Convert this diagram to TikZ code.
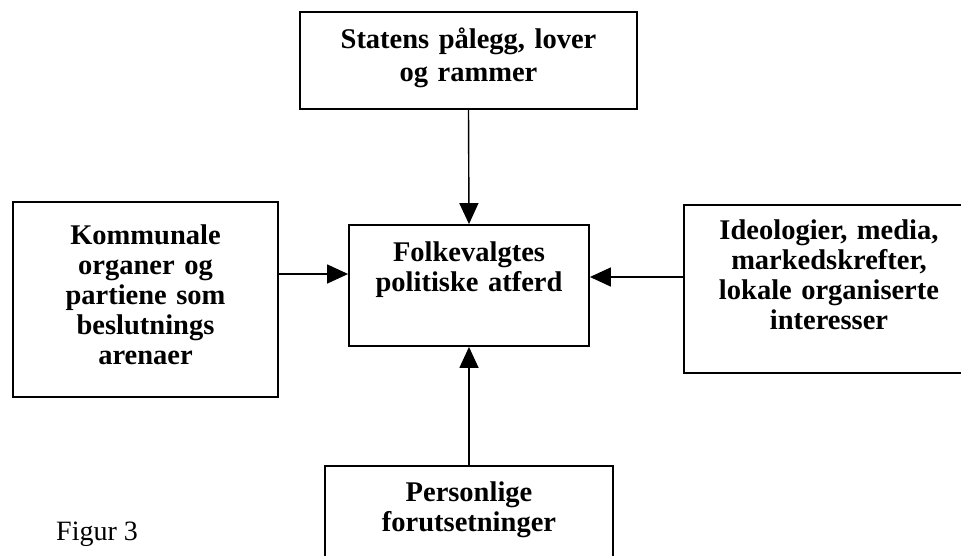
\documentclass[tikz,border=0pt]{standalone}
\usepackage{fontspec}
\setmainfont{Liberation Serif}
\usetikzlibrary{arrows.meta}

\begin{document}
\begin{tikzpicture}[x=1pt, y=-1pt,
    box/.style={draw, line width=1.8pt, inner sep=0pt},
    lbl/.style={anchor=base, inner sep=0pt, align=center, text width=#1,
        font=\fontsize{28.5}{30}\selectfont\bfseries},
    arr/.style={-{Triangle[length=21pt, width=19pt]}, line width=1.4pt}]
    \useasboundingbox (0,0) rectangle (961,555);
    % boxes
    \node[box, minimum width=337pt, minimum height=97pt] (stat) at (468.5,60.5) {};
    \node[box, minimum width=240pt, minimum height=121pt] (folk) at (469,285.5) {};
    \node[box, minimum width=265pt, minimum height=195pt] (komm) at (145.5,299.5) {};
    \node[box, minimum width=290pt, minimum height=168pt] (ideo) at (829,289) {};
    \node[box, minimum width=288pt, minimum height=120pt] (pers) at (469,526) {};
    % texts
    \node[lbl=330pt, font=\fontsize{28.5}{33}\selectfont\bfseries] (statT) at ([yshift=-37pt]stat.north) {Statens pålegg, lover\\og rammer};
    \node[lbl=235pt] (folkT) at ([yshift=-37pt]folk.north) {Folkevalgtes\\politiske atferd};
    \node[lbl=260pt] (kommT) at ([yshift=-43pt]komm.north) {Kommunale\\organer og\\partiene som\\beslutnings\\arenaer};
    \node[lbl=285pt] (ideoT) at ([yshift=-35pt]ideo.north) {Ideologier, media,\\markedskrefter,\\lokale organiserte\\interesser};
    \node[lbl=280pt] (persT) at ([yshift=-36pt]pers.north) {Personlige\\forutsetninger};
    \node[anchor=base west, inner sep=0pt, font=\fontsize{28}{30}\selectfont] (fig) at (56,540) {Figur 3};
    % arrows
    \draw[arr] (stat.south) -- (folk.north);
    \draw[arr] (pers.north) -- (folk.south);
    \draw[arr] (komm.east |- 0,274) -- (folk.west |- 0,274);
    \draw[arr] (ideo.west |- 0,277) -- (folk.east |- 0,277);
\end{tikzpicture}
\end{document}
